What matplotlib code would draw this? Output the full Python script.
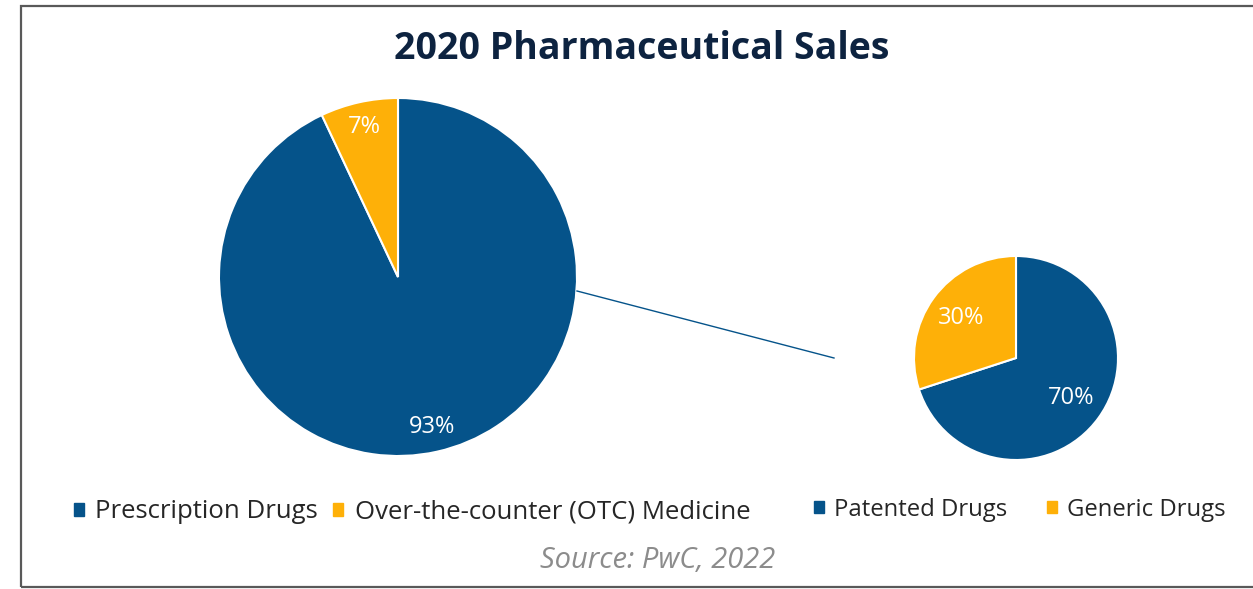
import matplotlib.pyplot as plt
from matplotlib.patches import Patch, Rectangle
from matplotlib.lines import Line2D

plt.rcParams['font.family'] = ['Open Sans', 'DejaVu Sans']

title = "2020 Pharmaceutical Sales"
source = "Source: PwC, 2022"

main_labels = ["Prescription Drugs", "Over-the-counter (OTC) Medicine"]
main_values = [93, 7]
sub_labels = ["Patented Drugs", "Generic Drugs"]
sub_values = [70, 30]

blue = "#05538a"
orange = "#feb008"
colors = [blue, orange]

W, H = 1253, 589
fig = plt.figure(figsize=(W / 100, H / 100), dpi=100)


def px_axes(cx, cy, r):
    return fig.add_axes([(cx - r) / W, (H - cy - r) / H, 2 * r / W, 2 * r / H])


ax1 = px_axes(398, 277, 179)
ax1.pie(main_values, colors=colors, startangle=90, counterclock=False,
        autopct="%d%%", pctdistance=0.86,
        wedgeprops=dict(edgecolor="white", linewidth=1.5),
        textprops=dict(color="white", fontsize=17))
ax1.set_xlim(-1, 1)
ax1.set_ylim(-1, 1)
ax1.axis("off")

ax2 = px_axes(1016, 358, 102)
ax2.pie(sub_values, colors=colors, startangle=90, counterclock=False,
        autopct="%d%%", pctdistance=0.67,
        wedgeprops=dict(edgecolor="white", linewidth=1.5),
        textprops=dict(color="white", fontsize=17))
ax2.set_xlim(-1, 1)
ax2.set_ylim(-1, 1)
ax2.axis("off")

# connector line between the two pies
fig.add_artist(Line2D([577 / W, 834 / W], [1 - 291 / H, 1 - 358 / H],
                      transform=fig.transFigure, color=blue, linewidth=1))

# frame
fig.add_artist(Rectangle((21 / W, 2 / H), 1.1, 581 / H, transform=fig.transFigure,
                         fill=False, edgecolor="#595959", linewidth=1.6))

fig.text(642 / W, 1 - 49 / H, title, ha="center", va="center",
         fontsize=27, fontweight="bold", color="#0d2340")

h1 = [Patch(color=c) for c in colors]
fig.legend(h1, main_labels, loc="center", bbox_to_anchor=(412 / W, 1 - 512 / H),
           ncol=2, frameon=False, fontsize=18.5, handlelength=0.38, handleheight=0.38,
           handletextpad=0.45, columnspacing=0.6, labelcolor="#262626")
fig.legend(h1, sub_labels, loc="center", bbox_to_anchor=(1020 / W, 1 - 510 / H),
           ncol=2, frameon=False, fontsize=17.2, handlelength=0.4, handleheight=0.4,
           handletextpad=0.45, columnspacing=1.65, labelcolor="#262626")

fig.text(658 / W, 1 - 560 / H, source, ha="center", va="center",
         fontsize=21, fontstyle="italic", color="#8c8c8c")

fig.savefig("out.png", dpi=100)
